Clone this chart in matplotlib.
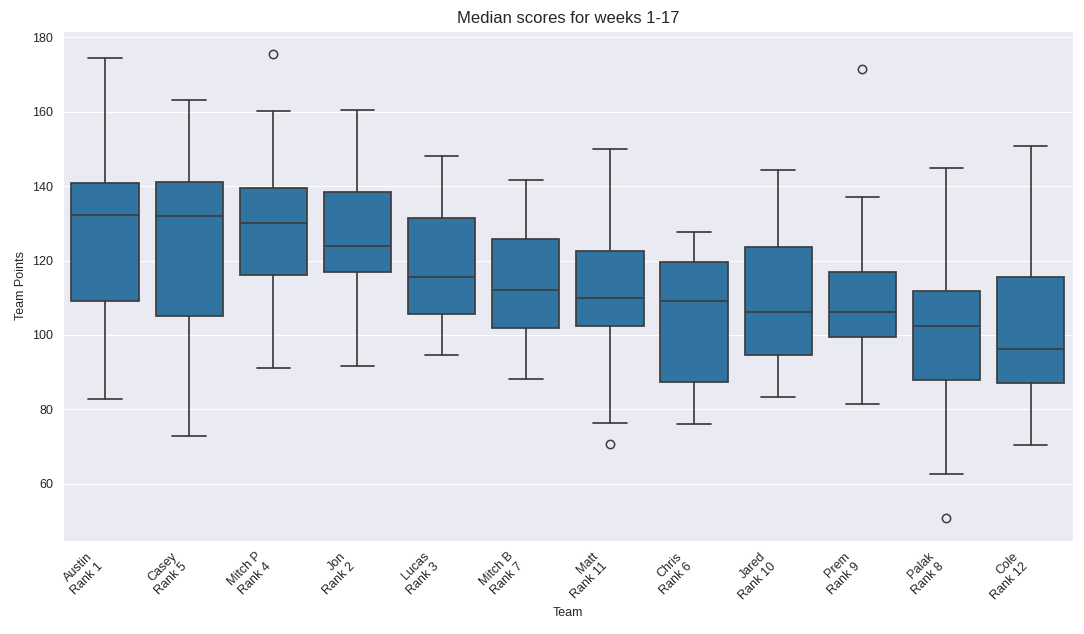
import matplotlib
matplotlib.use("Agg")
import matplotlib.pyplot as plt
import seaborn as sns

teams = ["Austin\nRank 1", "Casey\nRank 5", "Mitch P\nRank 4", "Jon\nRank 2",
         "Lucas\nRank 3", "Mitch B\nRank 7", "Matt\nRank 11", "Chris\nRank 6",
         "Jared\nRank 10", "Prem\nRank 9", "Palak\nRank 8", "Cole\nRank 12"]
whislo = [82.9, 72.9, 91.2, 91.7, 94.7, 88.1, 76.4, 76.1, 83.4, 81.3, 62.7, 70.4]
q1 = [109.0, 105.2, 116.2, 116.8, 105.7, 101.9, 102.4, 87.4, 94.7, 99.5, 88.0, 87.2]
med = [132.3, 131.9, 130.1, 123.9, 115.7, 112.2, 109.8, 109.0, 106.3, 106.3, 102.5, 96.3]
q3 = [140.8, 141.0, 139.4, 138.4, 131.5, 125.8, 122.7, 119.7, 123.6, 116.8, 111.7, 115.5]
whishi = [174.4, 163.2, 160.3, 160.6, 148.1, 141.6, 149.9, 127.8, 144.3, 137.0, 144.8, 150.9]
fliers = [[], [], [175.5], [], [], [], [70.7], [], [], [171.6], [50.9], []]

sns.set_style("darkgrid")
plt.rcParams["font.family"] = ["Liberation Sans", "DejaVu Sans"]

fig = plt.figure(figsize=(10.84, 6.34), dpi=100)
ax = fig.add_axes([63/1084, 1-540.7/634, (1072.7-63)/1084, (540.7-31)/634])

stats = []
for i in range(len(teams)):
    stats.append(dict(med=med[i], q1=q1[i], q3=q3[i], whislo=whislo[i],
                      whishi=whishi[i], fliers=fliers[i], label=teams[i]))

lc = "#3d3d3d"
ax.bxp(stats, positions=range(len(teams)), widths=0.8, patch_artist=True,
       boxprops=dict(facecolor="#3274a1", edgecolor=lc, linewidth=1.25),
       medianprops=dict(color=lc, linewidth=1.25),
       whiskerprops=dict(color=lc, linewidth=1.25),
       capprops=dict(color=lc, linewidth=1.25),
       capwidths=0.4,
       flierprops=dict(marker="o", markerfacecolor="none", markeredgecolor=lc,
                       markersize=6, markeredgewidth=1.1))

ax.set_xlim(-0.5, len(teams) - 0.5)
ax.set_yticks([60, 80, 100, 120, 140, 160, 180])
ax.set_xticks(range(len(teams)))
ax.set_xticklabels(teams, rotation=45, ha="right", fontsize=9)
ax.tick_params(axis="y", labelsize=9)
ax.set_xlabel("Team", fontsize=9)
ax.set_ylabel("Team Points", fontsize=9)
ax.set_title("Median scores for weeks 1-17", fontsize=12)
ax.grid(axis="x", visible=False)

fig.savefig("out.png", dpi=100)
